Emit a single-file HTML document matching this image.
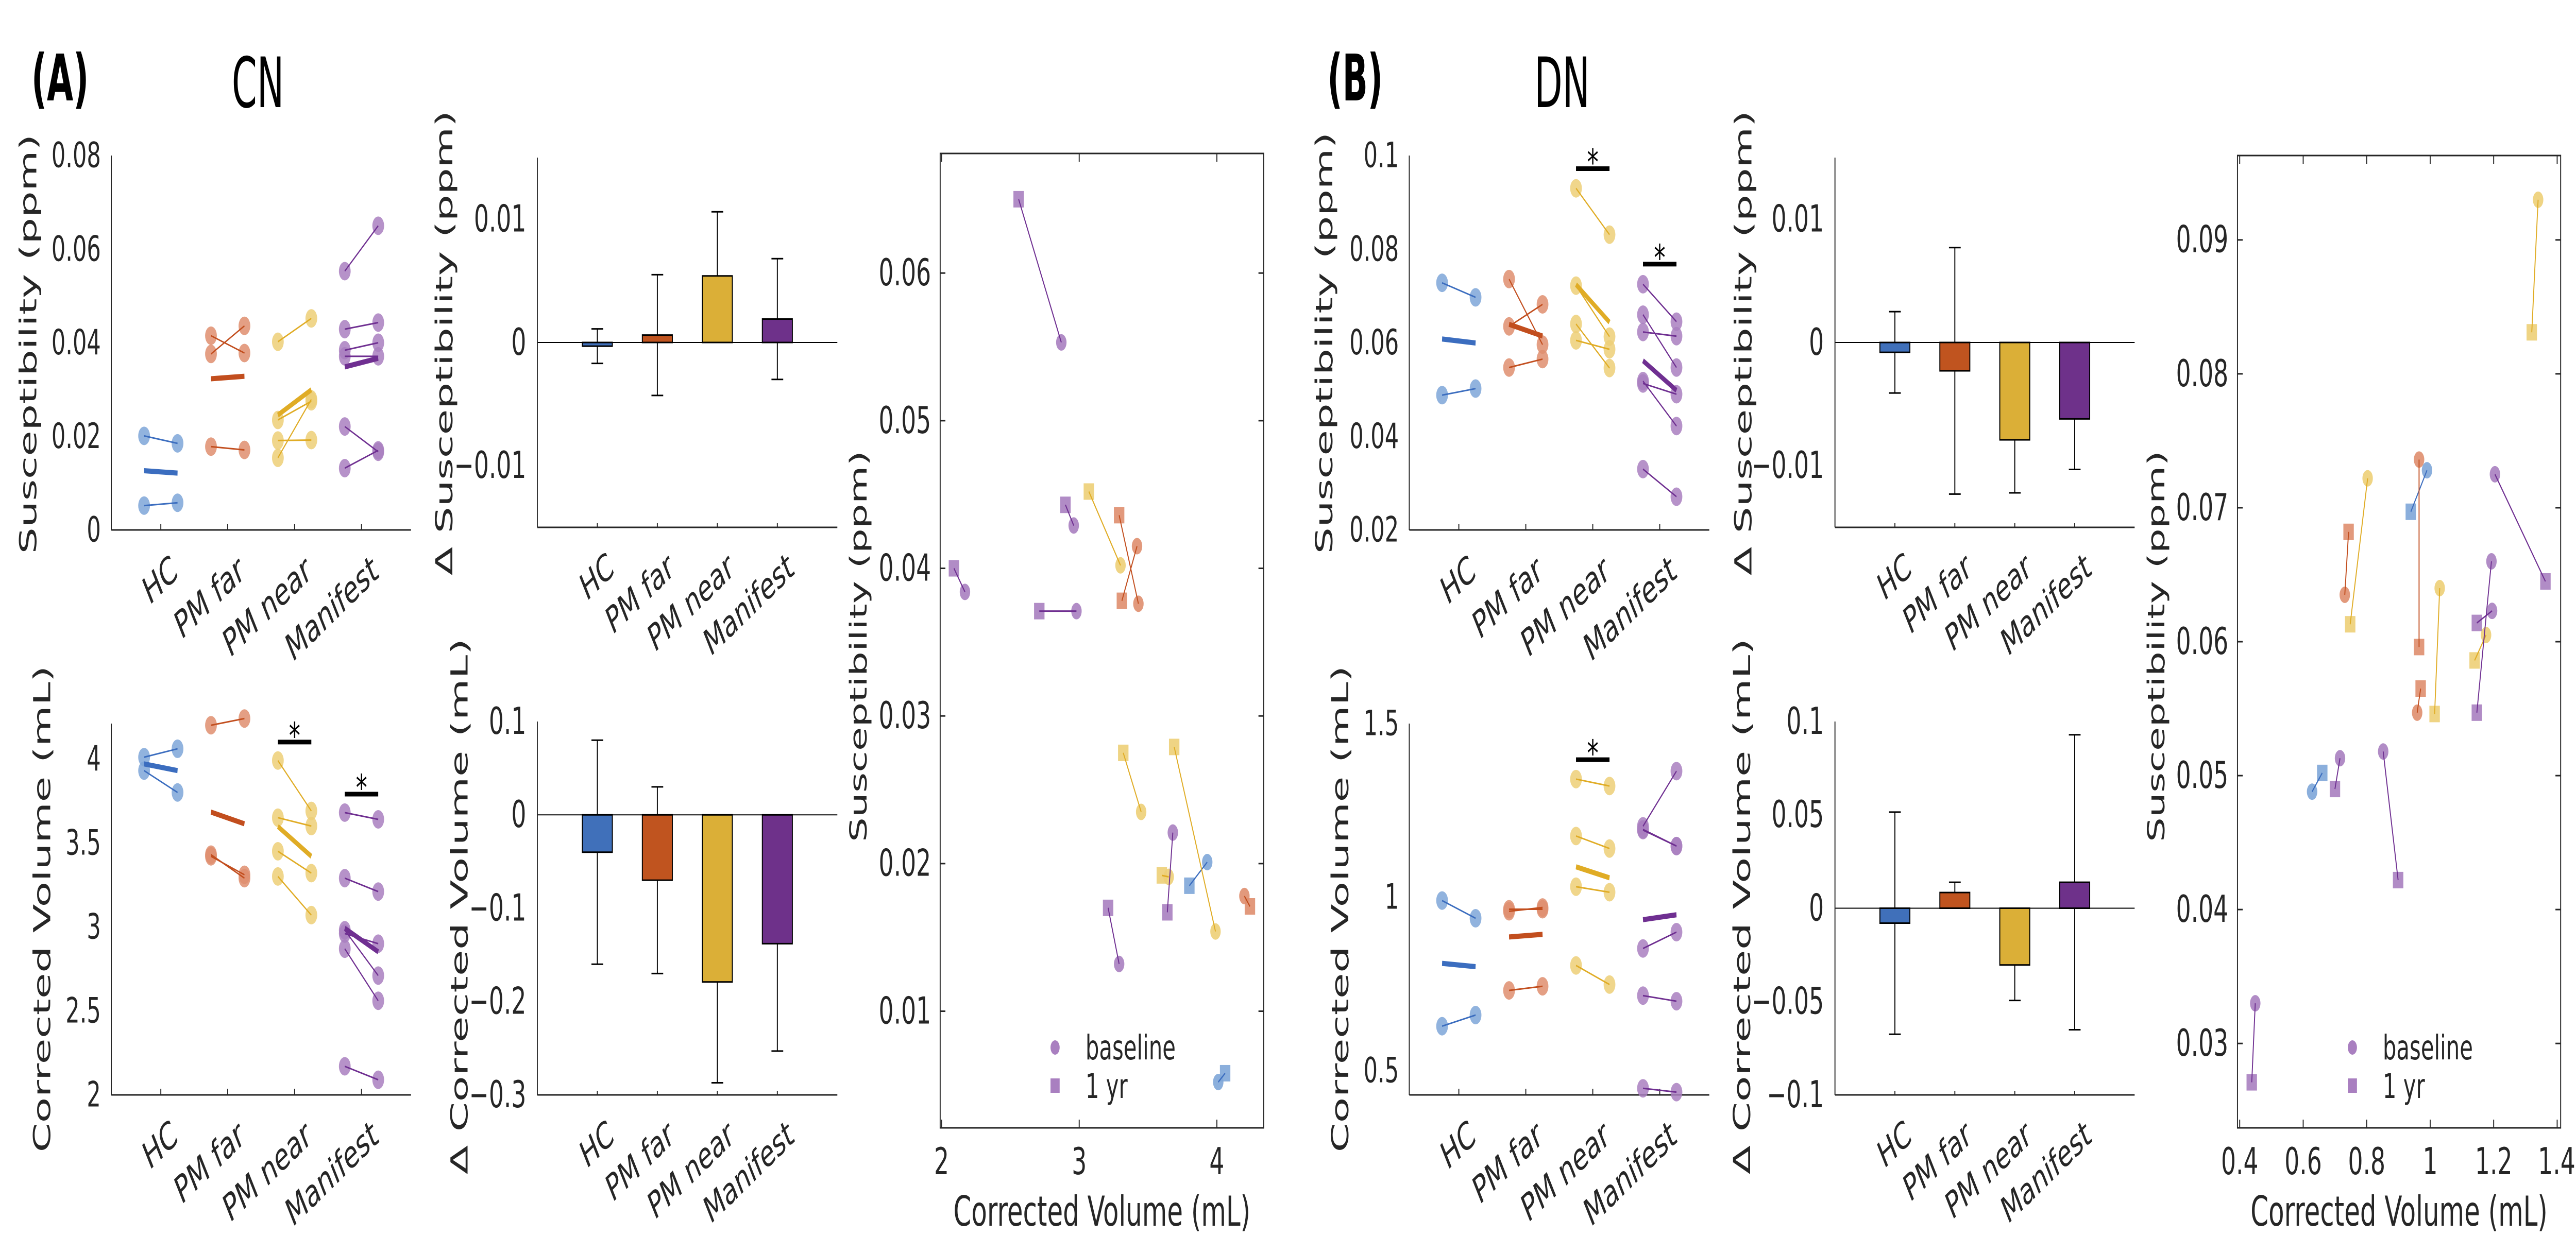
<!DOCTYPE html>
<html><head><meta charset="utf-8"><style>
html,body{margin:0;padding:0;background:#fff;width:100%;height:100%;overflow:hidden;}
svg{display:block;width:100vw;height:100vh;}
text{font-family:"DejaVu Sans","Liberation Sans",sans-serif;fill:#262626;}
</style></head><body>
<svg id="fig" xmlns="http://www.w3.org/2000/svg" viewBox="0 0 7891 2400" preserveAspectRatio="none" overflow="hidden">
<rect x="0" y="0" width="7891" height="2400" fill="#fff"/>
<text x="96" y="195" font-family="Liberation Sans, sans-serif" font-weight="bold" font-size="125" textLength="176" lengthAdjust="spacingAndGlyphs" style="fill:#000">(A)</text>
<text x="710" y="208" font-family="Liberation Sans, sans-serif" font-size="135" textLength="160" lengthAdjust="spacingAndGlyphs" style="fill:#000">CN</text>
<text x="4066" y="195" font-family="Liberation Sans, sans-serif" font-weight="bold" font-size="125" textLength="170" lengthAdjust="spacingAndGlyphs" style="fill:#000">(B)</text>
<text x="4700" y="208" font-family="Liberation Sans, sans-serif" font-size="135" textLength="170" lengthAdjust="spacingAndGlyphs" style="fill:#000">DN</text>
</svg>
<script>
// ---------- data ----------
const categories = ["HC","PM far","PM near","Manifest"];
// CN
const cnSuscBase = [[0.0201,0.0052],[0.0415,0.0376,0.0178],[0.0402,0.0235,0.0191,0.0154],[0.0553,0.0429,0.0384,0.0371,0.0221,0.0132]];
const cnSusc1yr  = [[0.0185,0.0058],[0.0378,0.0436,0.0171],[0.0452,0.0275,0.0192,0.0279],[0.0650,0.0443,0.0400,0.0371,0.0167,0.0170]];
const cnVolBase  = [[3.93,4.01],[3.42,3.43,4.20],[3.30,3.45,3.65,3.99],[2.87,2.96,2.17,2.98,3.68,3.29]];
const cnVol1yr   = [[3.80,4.06],[3.31,3.29,4.24],[3.07,3.32,3.60,3.69],[2.56,2.90,2.09,2.71,3.64,3.21]];
const cnDSusc = [-0.0003,0.0006,0.0054,0.0019];
const cnDSuscErr = [0.0014,0.0049,0.0052,0.0049];
const cnDVol = [-0.040,-0.070,-0.179,-0.138];
const cnDVolErr = [0.120,0.100,0.108,0.115];
// DN
const dnSuscBase = [[0.0728,0.0488],[0.0635,0.0736,0.0547],[0.0930,0.0722,0.0640,0.0605],[0.0725,0.0660,0.0623,0.0513,0.0518,0.0330]];
const dnSusc1yr  = [[0.0697,0.0502],[0.0682,0.0596,0.0565],[0.0831,0.0613,0.0546,0.0586],[0.0645,0.0547,0.0614,0.0490,0.0422,0.0271]];
const dnVolBase  = [[0.99,0.628],[0.731,0.965,0.959],[1.34,0.803,1.03,1.176],[1.204,1.193,1.195,0.716,0.852,0.449]];
const dnVol1yr   = [[0.939,0.66],[0.743,0.965,0.97],[1.32,0.748,1.014,1.14],[1.363,1.147,1.147,0.70,0.899,0.438]];
const dnDSusc = [-0.0008,-0.0023,-0.0079,-0.0062];
const dnDSuscErr = [0.0033,0.0100,0.0043,0.0041];
const dnDVol = [-0.008,0.0084,-0.0304,0.0139];
const dnDVolErr = [0.0595,0.0055,0.019,0.079];
// significance markers: [group index, y value]
const cnVolSig = [[2,4.10],[3,3.79]];
const dnSuscSig = [[2,0.0972],[3,0.0768]];
const dnVolSig = [[2,1.396]];
// tick values
const cnSuscTicks = [0,0.02,0.04,0.06,0.08];
const cnSuscTickLabels = ["0","0.02","0.04","0.06","0.08"];
const cnVolTicks = [2,2.5,3,3.5,4];
const cnVolTickLabels = ["2","2.5","3","3.5","4"];
const dnSuscTicks = [0.02,0.04,0.06,0.08,0.1];
const dnSuscTickLabels = ["0.02","0.04","0.06","0.08","0.1"];
const dnVolTicks = [0.5,1,1.5];
const dnVolTickLabels = ["0.5","1","1.5"];
const dSuscTicks = [-0.01,0,0.01];
const dSuscTickLabels = ["\u22120.01","0","0.01"];
const cnDVolTicks = [-0.3,-0.2,-0.1,0,0.1];
const cnDVolTickLabels = ["\u22120.3","\u22120.2","\u22120.1","0","0.1"];
const dnDVolTicks = [-0.1,-0.05,0,0.05,0.1];
const dnDVolTickLabels = ["\u22120.1","\u22120.05","0","0.05","0.1"];
const cnScXTicks = [2,3,4];
const cnScXTickLabels = ["2","3","4"];
const cnScYTicks = [0.01,0.02,0.03,0.04,0.05,0.06];
const cnScYTickLabels = ["0.01","0.02","0.03","0.04","0.05","0.06"];
const dnScXTicks = [0.4,0.6,0.8,1,1.2,1.4];
const dnScXTickLabels = ["0.4","0.6","0.8","1","1.2","1.4"];
const dnScYTicks = [0.03,0.04,0.05,0.06,0.07,0.08,0.09];
const dnScYTickLabels = ["0.03","0.04","0.05","0.06","0.07","0.08","0.09"];

// ---------- styling ----------
const NS = "http://www.w3.org/2000/svg";
const svg = document.getElementById('fig');
const light = ["#7ea6d8","#df8e6e","#edcf77","#a97fc0"];
const dark  = ["#3b6dbf","#c24e1e","#e0ac25","#6f2f91"];
const barCol = ["#4070ba","#c0541f","#dbaf37","#6e318a"];
const AX = "#262626";
const groupKey = ["hc","pm-far","pm-near","manifest"];

function mk(tag, attrs, name, parent){
  const el = document.createElementNS(NS, tag);
  for (const k in attrs) el.setAttribute(k, attrs[k]);
  
  
  (parent || svg).appendChild(el);
  return el;
}
function txt(str, attrs, name, parent){
  const el = mk('text', attrs, name, parent);
  el.textContent = str;
  return el;
}
function scale(d0,d1,p0,p1){ return v => p0 + (v-d0)/(d1-d0)*(p1-p0); }
function mean(a){ return a.reduce((s,v)=>s+v,0)/a.length; }

function ylabel(str, cx, cy, len, fs, name, parent){
  return txt(str, {x:0,y:0,'font-size':fs,'text-anchor':'middle','dominant-baseline':'central',
    textLength:len,lengthAdjust:'spacingAndGlyphs',transform:`translate(${cx},${cy}) rotate(-90)`}, name, parent);
}
function rotXLabels(g, xs, axisY, fs, prefix){
  categories.forEach((c,i)=>{
    txt(c, {x:0,y:0,dy:'0.72em','font-size':fs,'text-anchor':'end',
      transform:`translate(${xs(i+1)+28},${axisY+45}) rotate(-32)`}, prefix+'-xtick-label-'+groupKey[i], g);
  });
}

// ---------- strip (paired) plot ----------
function strip(o){
  const g = mk('g', {}, o.name);
  const xs = scale(0.26,4.74,o.x0,o.x1);
  const ys = scale(o.ylim[0],o.ylim[1],o.y1,o.y0);
  mk('line',{x1:o.x0,y1:o.y0,x2:o.x0,y2:o.y1,stroke:AX,'stroke-width':3},'y-axis-line',g);
  mk('line',{x1:o.x0,y1:o.y1,x2:o.x1,y2:o.y1,stroke:AX,'stroke-width':3},'x-axis-line',g);
  categories.forEach((c,i)=>{
    mk('line',{x1:xs(i+1),y1:o.y1,x2:xs(i+1),y2:o.y1-12,stroke:AX,'stroke-width':3},'x-tick',g);
  });
  o.ticks.forEach((v,i)=>{
    txt(o.tickLabels[i],{x:o.x0-32,y:ys(v),'font-size':68,'text-anchor':'end','dominant-baseline':'central'},'y-tick-label',g);
  });
  rotXLabels(g, xs, o.y1, 74, o.name);
  o.base.forEach((arr,gi)=>{
    const gg = mk('g',{},'group-'+groupKey[gi],g);
    arr.forEach((b,j)=>{
      const a = o.yr[gi][j];
      mk('circle',{cx:xs(gi+1-0.25),cy:ys(b),r:18,fill:light[gi],'fill-opacity':0.85},'baseline-point',gg);
      mk('circle',{cx:xs(gi+1+0.25),cy:ys(a),r:18,fill:light[gi],'fill-opacity':0.85},'one-year-point',gg);
    });
    arr.forEach((b,j)=>{
      const a = o.yr[gi][j];
      mk('line',{x1:xs(gi+1-0.25),y1:ys(b),x2:xs(gi+1+0.25),y2:ys(a),stroke:dark[gi],'stroke-width':3},'pair-line',gg);
    });
    const mb = mean(arr), ma = mean(o.yr[gi]);
    mk('line',{x1:xs(gi+1-0.25),y1:ys(mb),x2:xs(gi+1+0.25),y2:ys(ma),stroke:dark[gi],'stroke-width':10},'mean-line',gg);
  });
  (o.sig||[]).forEach(s=>{
    mk('line',{x1:xs(s[0]+1-0.25),y1:ys(s[1]),x2:xs(s[0]+1+0.25),y2:ys(s[1]),stroke:'#000','stroke-width':9},'significance-bar',g);
    txt('*',{x:xs(s[0]+1),y:ys(s[1])+12,'font-size':70,'text-anchor':'middle',style:'fill:#000'},'significance-star',g);
  });
  ylabel(o.ylabel,o.ylx,o.yly,o.yllen,72,o.name+'-y-axis-title',g);
}

// ---------- bar plot ----------
function bars(o){
  const g = mk('g', {}, o.name);
  const xs = scale(0,5,o.x0,o.x1);
  const ys = scale(o.ylim[0],o.ylim[1],o.y1,o.y0);
  o.vals.forEach((v,i)=>{
    const e = o.err[i], cx = xs(i+1);
    mk('line',{x1:cx,y1:ys(v-e),x2:cx,y2:ys(v+e),stroke:'#000','stroke-width':3},'error-bar-'+groupKey[i],g);
    mk('line',{x1:cx-18,y1:ys(v+e),x2:cx+18,y2:ys(v+e),stroke:'#000','stroke-width':3},'error-cap',g);
    mk('line',{x1:cx-18,y1:ys(v-e),x2:cx+18,y2:ys(v-e),stroke:'#000','stroke-width':3},'error-cap',g);
  });
  o.vals.forEach((v,i)=>{
    const y0 = ys(0), yv = ys(v);
    mk('rect',{x:xs(i+1-0.25),y:Math.min(y0,yv),width:xs(1.25)-xs(0.75),height:Math.max(Math.abs(yv-y0),1),
      fill:barCol[i],stroke:'#000','stroke-width':3},'bar-'+groupKey[i],g);
  });
  mk('line',{x1:o.x0,y1:ys(0),x2:o.x1,y2:ys(0),stroke:'#000','stroke-width':2},'zero-line',g);
  mk('line',{x1:o.x0,y1:o.y0,x2:o.x0,y2:o.y1,stroke:AX,'stroke-width':3},'y-axis-line',g);
  mk('line',{x1:o.x0,y1:o.y1,x2:o.x1,y2:o.y1,stroke:AX,'stroke-width':3},'x-axis-line',g);
  categories.forEach((c,i)=>{
    mk('line',{x1:xs(i+1),y1:o.y1,x2:xs(i+1),y2:o.y1-8,stroke:AX,'stroke-width':3},'x-tick',g);
  });
  o.ticks.forEach((v,i)=>{
    txt(o.tickLabels[i],{x:o.x0-34,y:ys(v),'font-size':72,'text-anchor':'end','dominant-baseline':'central'},'y-tick-label',g);
  });
  rotXLabels(g, xs, o.y1, 72, o.name);
  ylabel(o.ylabel,o.ylx,o.yly,o.yllen,72,o.name+'-y-axis-title',g);
}

// ---------- scatter ----------
function scatter(o){
  const g = mk('g', {}, o.name);
  const xs = scale(o.xlim[0],o.xlim[1],o.x0,o.x1);
  const ys = scale(o.ylim[0],o.ylim[1],o.y1,o.y0);
  mk('rect',{x:o.x0,y:o.y0,width:o.x1-o.x0,height:o.y1-o.y0,fill:'none',stroke:AX,'stroke-width':3},'axes-box',g);
  o.xticks.forEach((v,i)=>{
    mk('line',{x1:xs(v),y1:o.y1,x2:xs(v),y2:o.y1-16,stroke:AX,'stroke-width':3},'x-tick',g);
    mk('line',{x1:xs(v),y1:o.y0,x2:xs(v),y2:o.y0+16,stroke:AX,'stroke-width':3},'x-tick-top',g);
    const lbl = o.xtickLabels[i];
    const halfW = lbl.length * 0.32 * 72;
    const atEdge = xs(v) + halfW > 7885;
    txt(lbl,{x:atEdge ? 7889 : xs(v),y:o.y1+90,'font-size':72,'text-anchor':atEdge ? 'end' : 'middle'},'x-tick-label',g);
  });
  o.yticks.forEach((v,i)=>{
    mk('line',{x1:o.x0,y1:ys(v),x2:o.x0+16,y2:ys(v),stroke:AX,'stroke-width':3},'y-tick',g);
    mk('line',{x1:o.x1,y1:ys(v),x2:o.x1-16,y2:ys(v),stroke:AX,'stroke-width':3},'y-tick-right',g);
    txt(o.ytickLabels[i],{x:o.x0-28,y:ys(v),'font-size':72,'text-anchor':'end','dominant-baseline':'central'},'y-tick-label',g);
  });
  o.volBase.forEach((arr,gi)=>{
    const gg = mk('g',{},'pairs-'+groupKey[gi],g);
    arr.forEach((vb,j)=>{
      const va = o.vol1yr[gi][j], sb = o.suscBase[gi][j], sa = o.susc1yr[gi][j];
      mk('rect',{x:xs(va)-16,y:ys(sa)-16,width:32,height:32,fill:light[gi],'fill-opacity':0.9},'one-year-marker',gg);
      mk('circle',{cx:xs(vb),cy:ys(sb),r:16,fill:light[gi],'fill-opacity':0.9},'baseline-marker',gg);
      mk('line',{x1:xs(vb),y1:ys(sb),x2:xs(va),y2:ys(sa),stroke:dark[gi],'stroke-width':3},'pair-line',gg);
    });
  });
  const lg = mk('g',{},'legend',g);
  mk('circle',{cx:o.legX,cy:o.legY,r:14,fill:light[3]},'legend-baseline-marker',lg);
  txt('baseline',{x:o.legX+93,y:o.legY+23,'font-size':66},'legend-baseline-label',lg);
  mk('rect',{x:o.legX-14,y:o.legY+60,width:28,height:28,fill:light[3]},'legend-1yr-marker',lg);
  txt('1 yr',{x:o.legX+93,y:o.legY+98,'font-size':66},'legend-1yr-label',lg);
  txt('Corrected Volume (mL)',{x:(o.x0+o.x1)/2,y:2380,'font-size':80,'text-anchor':'middle',textLength:910,lengthAdjust:'spacingAndGlyphs'},o.name+'-x-axis-title',g);
  ylabel('Susceptibility (ppm)',o.ylx,1255,760,72,o.name+'-y-axis-title',g);
}

// ---------- build ----------
strip({name:'cn-susceptibility-strip',x0:341,x1:1259,y0:302,y1:1029,ylim:[0,0.08],ticks:cnSuscTicks,tickLabels:cnSuscTickLabels,
  base:cnSuscBase,yr:cnSusc1yr,sig:[],ylabel:'Susceptibility (ppm)',ylx:87,yly:668,yllen:815});
strip({name:'cn-volume-strip',x0:341,x1:1259,y0:1405,y1:2126,ylim:[2,4.21],ticks:cnVolTicks,tickLabels:cnVolTickLabels,
  base:cnVolBase,yr:cnVol1yr,sig:cnVolSig,ylabel:'Corrected Volume (mL)',ylx:130,yly:1765,yllen:945});
bars({name:'cn-delta-susceptibility-bars',x0:1646,x1:2565,y0:306,y1:1024,ylim:[-0.015,0.015],vals:cnDSusc,err:cnDSuscErr,
  ticks:dSuscTicks,tickLabels:dSuscTickLabels,ylabel:'\u0394 Susceptibility (ppm)',ylx:1362,yly:666,yllen:903});
bars({name:'cn-delta-volume-bars',x0:1646,x1:2565,y0:1401,y1:2126,ylim:[-0.3,0.1],vals:cnDVol,err:cnDVolErr,
  ticks:cnDVolTicks,tickLabels:cnDVolTickLabels,ylabel:'\u0394 Corrected Volume (mL)',ylx:1408,yly:1760,yllen:1041});
scatter({name:'cn-scatter',x0:2880,x1:3871,y0:298,y1:2190,xlim:[1.99,4.34],ylim:[0.0021,0.0681],
  xticks:cnScXTicks,xtickLabels:cnScXTickLabels,yticks:cnScYTicks,ytickLabels:cnScYTickLabels,
  volBase:cnVolBase,vol1yr:cnVol1yr,suscBase:cnSuscBase,susc1yr:cnSusc1yr,legX:3232,legY:2034,ylx:2631});

strip({name:'dn-susceptibility-strip',x0:4317,x1:5236,y0:302,y1:1029,ylim:[0.02,0.1],ticks:dnSuscTicks,tickLabels:dnSuscTickLabels,
  base:dnSuscBase,yr:dnSusc1yr,sig:dnSuscSig,ylabel:'Susceptibility (ppm)',ylx:4057,yly:666,yllen:819});
strip({name:'dn-volume-strip',x0:4317,x1:5236,y0:1405,y1:2126,ylim:[0.43,1.5],ticks:dnVolTicks,tickLabels:dnVolTickLabels,
  base:dnVolBase,yr:dnVol1yr,sig:dnVolSig,ylabel:'Corrected Volume (mL)',ylx:4106,yly:1765,yllen:945});
bars({name:'dn-delta-susceptibility-bars',x0:5621,x1:6539,y0:306,y1:1024,ylim:[-0.015,0.015],vals:dnDSusc,err:dnDSuscErr,
  ticks:dSuscTicks,tickLabels:dSuscTickLabels,ylabel:'\u0394 Susceptibility (ppm)',ylx:5341,yly:666,yllen:903});
bars({name:'dn-delta-volume-bars',x0:5621,x1:6539,y0:1401,y1:2126,ylim:[-0.1,0.1],vals:dnDVol,err:dnDVolErr,
  ticks:dnDVolTicks,tickLabels:dnDVolTickLabels,ylabel:'\u0394 Corrected Volume (mL)',ylx:5337,yly:1760,yllen:1041});
scatter({name:'dn-scatter',x0:6854,x1:7844,y0:302,y1:2190,xlim:[0.393,1.411],ylim:[0.0237,0.0963],
  xticks:dnScXTicks,xtickLabels:dnScXTickLabels,yticks:dnScYTicks,ytickLabels:dnScYTickLabels,
  volBase:dnVolBase,vol1yr:dnVol1yr,suscBase:dnSuscBase,susc1yr:dnSusc1yr,legX:7206,legY:2034,ylx:6606});
</script>
</body></html>
